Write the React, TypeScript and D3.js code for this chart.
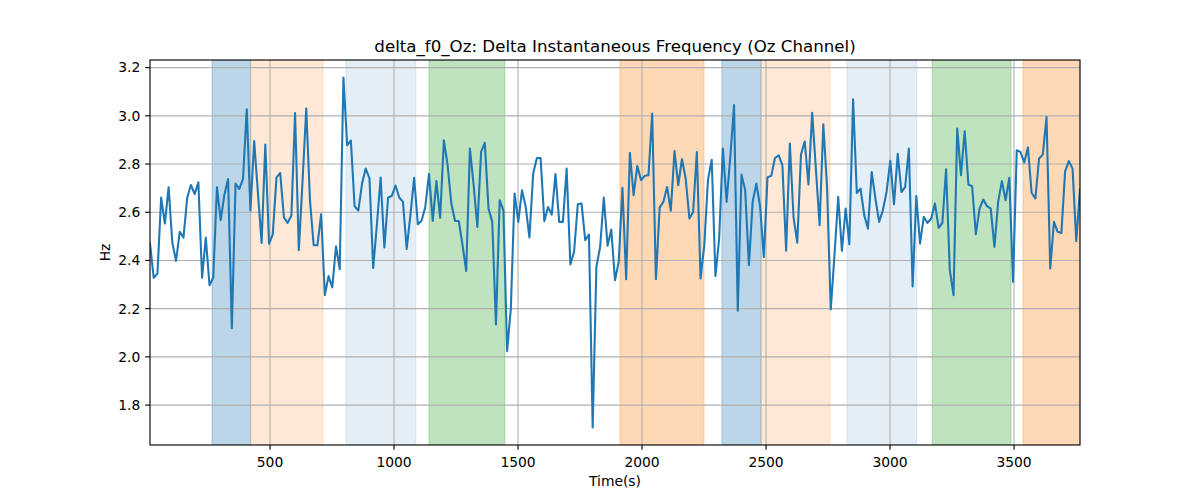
import React from "react";
import * as d3 from "d3";

const T0 = 16;
const STEP = 15;

const values: number[] = [
  2.47, 2.328, 2.346, 2.661, 2.553, 2.704, 2.474, 2.398, 2.519, 2.495, 2.66, 2.713, 2.675, 2.724, 2.328, 2.495, 2.297, 2.329, 2.704, 2.567, 2.673, 2.738, 2.119, 2.719, 2.697, 2.737, 3.027, 2.607, 2.895, 2.684, 2.473, 2.881, 2.469, 2.508, 2.744, 2.763, 2.579, 2.556, 2.585, 3.012, 2.443, 2.726, 3.03,
  2.65, 2.463, 2.463, 2.592, 2.256, 2.335, 2.288, 2.459, 2.364, 3.159, 2.878, 2.897, 2.625, 2.607, 2.719, 2.781, 2.74, 2.369, 2.55, 2.744, 2.454, 2.66, 2.668, 2.711, 2.661, 2.643, 2.448, 2.588, 2.743, 2.55, 2.565, 2.622, 2.759, 2.564, 2.729, 2.577, 2.899, 2.795, 2.636, 2.564, 2.564, 2.465,
  2.356, 2.864, 2.712, 2.539, 2.85, 2.888, 2.615, 2.56, 2.134, 2.65, 2.608, 2.024, 2.201, 2.678, 2.56, 2.691, 2.622, 2.495, 2.76, 2.825, 2.825, 2.563, 2.622, 2.59, 2.759, 2.56, 2.56, 2.781, 2.383, 2.436, 2.633, 2.636, 2.484, 2.507, 1.707, 2.374, 2.456, 2.661, 2.461, 2.528, 2.318, 2.394,
  2.701, 2.322, 2.846, 2.671, 2.792, 2.733, 2.751, 2.754, 3.009, 2.322, 2.619, 2.643, 2.705, 2.606, 2.854, 2.712, 2.82, 2.74, 2.574, 2.601, 2.85, 2.325, 2.463, 2.736, 2.818, 2.336, 2.491, 2.864, 2.643, 2.83, 3.045, 2.191, 2.756, 2.691, 2.38, 2.643, 2.719, 2.625, 2.414, 2.745, 2.751, 2.825,
  2.836, 2.795, 2.44, 2.885, 2.578, 2.474, 2.84, 2.894, 2.715, 3.013, 2.78, 2.546, 2.965, 2.705, 2.197, 2.422, 2.664, 2.44, 2.615, 2.467, 3.069, 2.68, 2.698, 2.588, 2.532, 2.767, 2.657, 2.56, 2.608, 2.684, 2.813, 2.633, 2.842, 2.684, 2.704, 2.864, 2.292, 2.667, 2.47, 2.581, 2.556,
  2.574, 2.636, 2.535, 2.556, 2.778, 2.36, 2.256, 2.947, 2.754, 2.936, 2.715, 2.708, 2.509, 2.615, 2.653, 2.625, 2.615, 2.456, 2.643, 2.729, 2.65, 2.743, 2.311, 2.857, 2.85, 2.806, 2.869, 2.68, 2.657, 2.823, 2.839, 2.995, 2.367, 2.56, 2.519, 2.514, 2.77, 2.812, 2.781, 2.48, 2.696,
];

const spanStarts: number[] = [266, 422, 806, 1141, 1911, 2322, 2480, 2826, 3170, 3536];
const spanEnds: number[] = [422, 714, 1088, 1447, 2250, 2480, 2758, 3108, 3488, 3766];
const spanColors: string[] = ["#1f77b4", "#ff7f0e", "#1f77b4", "#2ca02c", "#ff7f0e", "#1f77b4", "#ff7f0e", "#1f77b4", "#2ca02c", "#ff7f0e"];
const spanAlphas: number[] = [0.3, 0.17, 0.12, 0.3, 0.3, 0.3, 0.17, 0.12, 0.3, 0.3];

const xTicks: number[] = [500, 1000, 1500, 2000, 2500, 3000, 3500];
const yTicks: number[] = [1.8, 2.0, 2.2, 2.4, 2.6, 2.8, 3.0, 3.2];

const title = "delta_f0_Oz: Delta Instantaneous Frequency (Oz Channel)";
const xLabel = "Time(s)";
const yLabel = "Hz";

export default function App() {
  const W = 1200, H = 500;
  const L = 150, R = 1080, T = 60, B = 445;
  const times = values.map((_, i) => T0 + STEP * i);
  const x = d3.scaleLinear().domain([times[0], times[times.length - 1]]).range([L, R]);
  const vmin = d3.min(values)!, vmax = d3.max(values)!;
  const pad = (vmax - vmin) * 0.05;
  const y = d3.scaleLinear().domain([vmin - pad, vmax + pad]).range([B, T]);
  const line = d3.line<number>().x((_, i) => x(times[i])).y((d) => y(d));
  const font = "DejaVu Sans, sans-serif";
  const tickLen = 4.86;
  const thin = 1.11;

  return (
    <svg width={W} height={H} style={{ position: "absolute", left: 0, top: 0, background: "#fff" }} fontFamily={font}>
      <rect x={0} y={0} width={W} height={H} fill="#fff" />
      <defs>
        <clipPath id="plot">
          <rect x={L} y={T} width={R - L} height={B - T} />
        </clipPath>
      </defs>
      <g clipPath="url(#plot)">
        {spanStarts.map((s, i) => (
          <rect key={i} x={x(s)} y={T} width={x(spanEnds[i]) - x(s)} height={B - T}
            fill={spanColors[i]} fillOpacity={spanAlphas[i]} stroke={spanColors[i]} strokeOpacity={spanAlphas[i]} strokeWidth={1} />
        ))}
        {xTicks.map((t) => (
          <line key={"gx" + t} x1={x(t)} x2={x(t)} y1={T} y2={B} stroke="#b0b0b0" strokeWidth={thin} />
        ))}
        {yTicks.map((t) => (
          <line key={"gy" + t} x1={L} x2={R} y1={y(t)} y2={y(t)} stroke="#b0b0b0" strokeWidth={thin} />
        ))}
        <path d={line(values) || ""} fill="none" stroke="#1f77b4" strokeWidth={2.08} strokeLinejoin="round" strokeLinecap="square" />
      </g>
      <rect x={L} y={T} width={R - L} height={B - T} fill="none" stroke="#000" strokeWidth={thin} />
      {xTicks.map((t) => (
        <g key={"tx" + t}>
          <line x1={x(t)} x2={x(t)} y1={B} y2={B + tickLen} stroke="#000" strokeWidth={thin} />
          <text x={x(t)} y={B + 21.5} textAnchor="middle" fontSize={13.89} fill="#000">{t}</text>
        </g>
      ))}
      {yTicks.map((t) => (
        <g key={"ty" + t}>
          <line x1={L - tickLen} x2={L} y1={y(t)} y2={y(t)} stroke="#000" strokeWidth={thin} />
          <text x={L - 9.7} y={y(t)} dy="0.35em" textAnchor="end" fontSize={13.89} fill="#000">{t.toFixed(1)}</text>
        </g>
      ))}
      <text x={(L + R) / 2} y={486} textAnchor="middle" fontSize={13.89} fill="#000">{xLabel}</text>
      <text transform={`translate(110, ${(T + B) / 2}) rotate(-90)`} textAnchor="middle" fontSize={13.89} fill="#000">{yLabel}</text>
      <text x={(L + R) / 2} y={52} textAnchor="middle" fontSize={16.67} fill="#000">{title}</text>
    </svg>
  );
}
